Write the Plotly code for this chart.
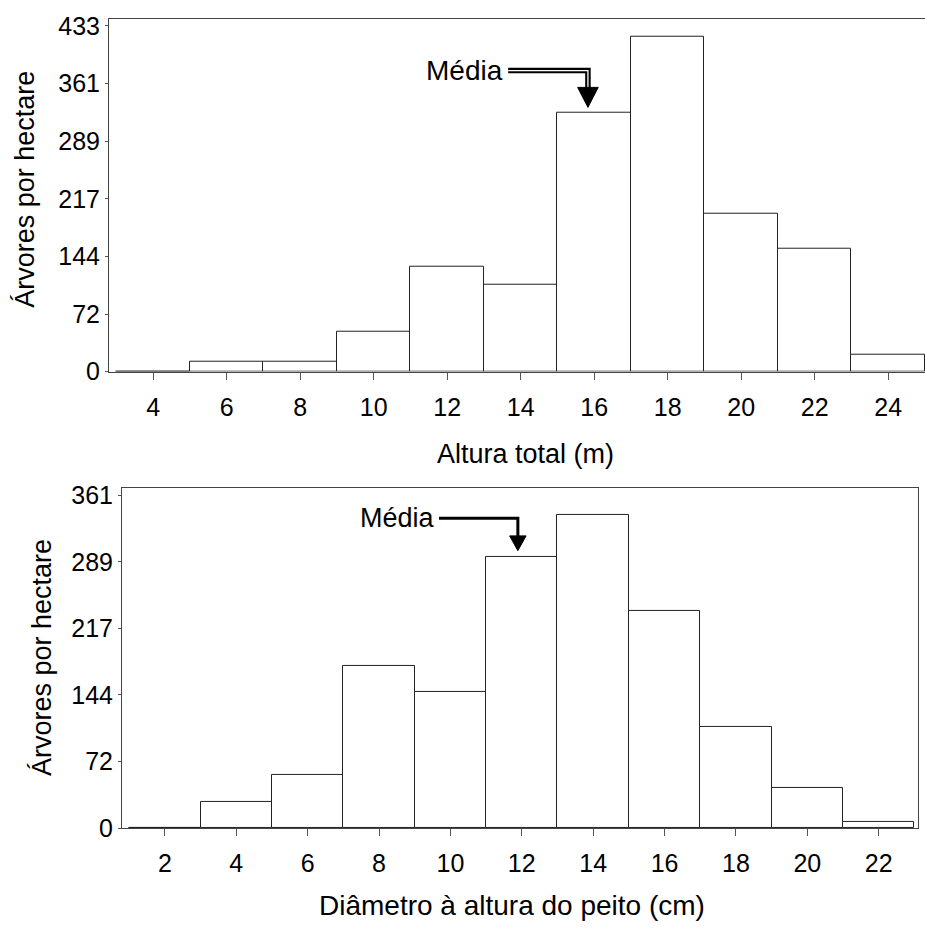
import plotly.graph_objects as go

# ---------------- data ----------------
height_classes = [4, 6, 8, 10, 12, 14, 16, 18, 20, 22, 24]
height_trees = [0, 12.2, 12.2, 50, 132, 109, 324.5, 420, 198, 154, 20.8]
height_yticks = [0, 433 / 6, 2 * 433 / 6, 3 * 433 / 6, 4 * 433 / 6, 5 * 433 / 6, 433]
height_ytext = ["0", "72", "144", "217", "289", "361", "433"]
height_mean = 15.83

dbh_classes = [2, 4, 6, 8, 10, 12, 14, 16, 18, 20, 22]
dbh_trees = [0, 28.7, 58, 176, 148, 294, 340, 236, 110, 43.5, 6.4]
dbh_yticks = [0, 361 / 5, 2 * 361 / 5, 3 * 361 / 5, 4 * 361 / 5, 361]
dbh_ytext = ["0", "72", "144", "217", "289", "361"]
dbh_mean = 11.89

FONT = "Liberation Sans, Arial, sans-serif"
W, H = 925, 934


def px_x(a, b):
    return [a / W, b / W]


def px_y(top, bottom):
    return [1 - bottom / H, 1 - top / H]


fig = go.Figure()
fig.add_trace(go.Bar(x=height_classes, y=height_trees, width=2,
                     marker=dict(color="white", line=dict(color="#222", width=1)),
                     xaxis="x", yaxis="y", showlegend=False))
fig.add_trace(go.Bar(x=dbh_classes, y=dbh_trees, width=2,
                     marker=dict(color="white", line=dict(color="#222", width=1)),
                     xaxis="x2", yaxis="y2", showlegend=False))

axis_common = dict(showgrid=False, zeroline=False, showline=True, linecolor="#444",
                   linewidth=1, ticks="outside", tickcolor="#555",
                   tickfont=dict(family=FONT, size=25, color="black"))

fig.update_layout(
    width=W, height=H, margin=dict(l=0, r=0, t=0, b=0),
    paper_bgcolor="white", plot_bgcolor="white", bargap=0,
    xaxis=dict(axis_common, domain=px_x(109, 925), range=[2.8, 25], anchor="y",
               tickvals=height_classes, ticklen=7, mirror=True, ticklabelstandoff=6),
    yaxis=dict(axis_common, domain=px_y(12, 373), range=[0, 442], anchor="x",
               tickvals=height_yticks, ticktext=height_ytext, ticklen=3),
    xaxis2=dict(axis_common, domain=px_x(122, 918), range=[0.8, 23.1], anchor="y2",
                tickvals=dbh_classes, ticklen=7, mirror=True, ticklabelstandoff=6),
    yaxis2=dict(axis_common, domain=px_y(492, 840), range=[0, 369], anchor="x2",
                tickvals=dbh_yticks, ticktext=dbh_ytext, ticklen=3, mirror=True),
)

title_font = dict(family=FONT, size=27, color="black")
ann = [
    dict(text="Altura total (m)", x=525 / W, y=1 - 457 / H, xref="paper", yref="paper",
         showarrow=False, font=title_font, xanchor="center", yanchor="middle"),
    dict(text="Diâmetro à altura do peito (cm)", x=512 / W, y=1 - 919 / H, xref="paper",
         yref="paper", showarrow=False, font=dict(family=FONT, size=28, color="black"),
         xanchor="center", yanchor="middle"),
    dict(text="Árvores por hectare", x=25 / W, y=1 - 187 / H, xref="paper", yref="paper",
         showarrow=False, font=title_font, textangle=-90, xanchor="center", yanchor="middle"),
    dict(text="Árvores por hectare", x=42 / W, y=1 - 666 / H, xref="paper", yref="paper",
         showarrow=False, font=title_font, textangle=-90, xanchor="center", yanchor="middle"),
    dict(text="Média", x=13.58, y=377, xref="x", yref="y", showarrow=False,
         font=dict(family=FONT, size=28, color="black"), xanchor="right", yanchor="middle"),
    dict(text="Média", x=9.62, y=336, xref="x2", yref="y2", showarrow=False,
         font=title_font, xanchor="right", yanchor="middle"),
]
fig.update_layout(annotations=ann)

shapes = []
# top: double-line arrow
p_top = f"M 13.66 377 L {height_mean} 377 L {height_mean} 356"
shapes.append(dict(type="path", path=p_top, xref="x", yref="y",
                   line=dict(color="black", width=5.5)))
shapes.append(dict(type="path", path=p_top, xref="x", yref="y",
                   line=dict(color="white", width=1.3)))
shapes.append(dict(type="path", xref="x", yref="y",
                   path=f"M {height_mean - 0.28} 356 L {height_mean + 0.28} 356 L {height_mean} 331 Z",
                   fillcolor="black", line=dict(color="black", width=1)))
# bottom: single-line arrow
p_bot = f"M 9.68 336 L {dbh_mean} 336 L {dbh_mean} 317"
shapes.append(dict(type="path", path=p_bot, xref="x2", yref="y2",
                   line=dict(color="black", width=3)))
shapes.append(dict(type="path", xref="x2", yref="y2",
                   path=f"M {dbh_mean - 0.23} 317 L {dbh_mean + 0.23} 317 L {dbh_mean} 301 Z",
                   fillcolor="black", line=dict(color="black", width=1)))
fig.update_layout(shapes=shapes)

fig.write_html("out.html")
